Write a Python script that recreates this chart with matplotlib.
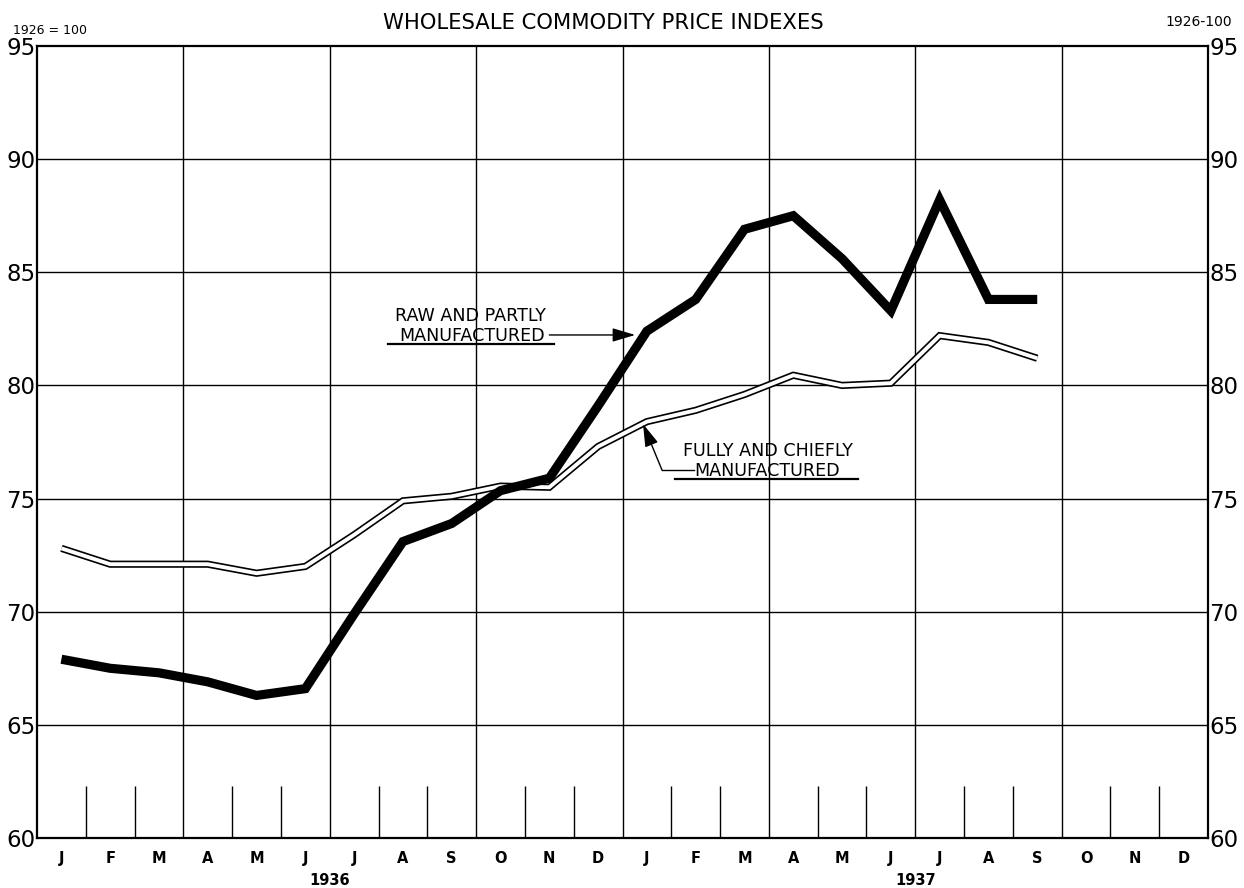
import matplotlib
matplotlib.use("Agg")
import matplotlib.pyplot as plt
from matplotlib import font_manager
from matplotlib.transforms import blended_transform_factory

# ---------------- data ----------------
month_labels = ["J", "F", "M", "A", "M", "J", "J", "A", "S", "O", "N", "D",
                "J", "F", "M", "A", "M", "J", "J", "A", "S", "O", "N", "D"]
years = ["1936", "1937"]
# Jan 1936 .. Sep 1937 (21 months)
raw_partly = [67.9, 67.5, 67.3, 66.9, 66.3, 66.6, 69.9, 73.1, 73.9, 75.35, 75.9, 79.1,
              82.4, 83.8, 86.9, 87.5, 85.6, 83.3, 88.2, 83.8, 83.8]
fully_chiefly = [72.8, 72.1, 72.1, 72.1, 71.7, 72.0, 73.4, 74.9, 75.1, 75.55, 75.5, 77.3,
                 78.4, 78.9, 79.6, 80.45, 80.0, 80.1, 82.2, 81.9, 81.2]
y_ticks = [60, 65, 70, 75, 80, 85, 90, 95]

# ---------------- fonts ----------------
FAM = "DejaVu Sans"
names = {f.name for f in font_manager.fontManager.ttflist}
NARROW = "Liberation Sans Narrow" if "Liberation Sans Narrow" in names else None

# ---------------- figure ----------------
W, H = 1244, 888
fig = plt.figure(figsize=(W / 100, H / 100), dpi=100)
fig.patch.set_facecolor("white")
ax = fig.add_axes([37 / W, 1 - 838 / H, (1208 - 37) / W, (838 - 46) / H])

n = len(month_labels)
ax.set_xlim(-0.5, n - 0.5)
ax.set_ylim(60, 95)

# grid: horizontal at every 5, vertical every quarter
for v in y_ticks[1:-1]:
    ax.axhline(v, color="black", lw=1.0, zorder=1)
for q in range(3, n, 3):
    ax.axvline(q - 0.5, color="black", lw=1.0, zorder=1)
# short month ticks
short = [b - 0.5 for b in range(1, n) if b % 3 != 0]
ax.vlines(short, 60, 62.3, color="black", lw=1.0, zorder=1)

for s in ax.spines.values():
    s.set_linewidth(1.6)
    s.set_color("black")

# series
xs = list(range(len(raw_partly)))
ax.plot(xs, raw_partly, color="black", lw=6.6, solid_joinstyle="miter",
        solid_capstyle="butt", zorder=4)
xf = list(range(len(fully_chiefly)))
ax.plot(xf, fully_chiefly, color="black", lw=5.2, solid_joinstyle="miter",
        solid_capstyle="butt", zorder=3)
ax.plot(xf, fully_chiefly, color="white", lw=2.8, solid_joinstyle="miter",
        solid_capstyle="butt", zorder=3.5)

# axes ticks / labels
ax.set_xticks(range(n))
ax.set_xticklabels(month_labels, fontsize=10.5, fontweight="bold", family=FAM)
ax.tick_params(axis="x", length=0, pad=9)
ax.set_yticks(y_ticks)
ax.set_yticklabels([str(v) for v in y_ticks])
ax.tick_params(axis="y", left=True, right=True, labelleft=True, labelright=True,
               length=0, pad=1)
for t in ax.yaxis.get_major_ticks():
    for lab in (t.label1, t.label2):
        if NARROW:
            lab.set_family(NARROW)
            lab.set_fontsize(20)
        else:
            lab.set_family(FAM)
            lab.set_fontsize(16.5)

# year labels
trans = blended_transform_factory(ax.transData, fig.transFigure)
for xpos, yr in zip([5.5, 17.5], years):
    ax.text(xpos, 1 - 880 / H, yr, transform=trans, ha="center", va="center",
            fontsize=10.5, fontweight="bold", family=FAM)

# title and unit notes
if NARROW:
    title_kw = dict(family=NARROW, fontsize=19)
    left_kw = dict(family=NARROW, fontsize=10.5)
    right_kw = dict(family=NARROW, fontsize=11.5)
else:
    title_kw = dict(family=FAM, fontsize=15.2)
    left_kw = dict(family=FAM, fontsize=9)
    right_kw = dict(family=FAM, fontsize=10)
fig.text(603 / W, 1 - 23 / H, "WHOLESALE COMMODITY PRICE INDEXES", ha="center",
         va="center", **title_kw)
fig.text(13 / W, 1 - 31 / H, "1926 = 100", ha="left", va="center", **left_kw)
fig.text(1232 / W, 1 - 22 / H, "1926-100", ha="right", va="center", **right_kw)

# annotations
tk = dict(fontsize=12.6, family=FAM, ha="center", va="center", zorder=6)
ax.text(8.375, 83.07, "RAW AND PARTLY", **tk)
ax.text(8.42, 82.18, "MANUFACTURED", **tk)
ax.plot([6.69, 10.10], [81.83, 81.83], color="black", lw=1.6, zorder=6)
ax.annotate("", xy=(11.76, 82.23), xytext=(10.0, 82.23),
            arrowprops=dict(arrowstyle="-|>,head_length=1.4,head_width=0.42",
                            mutation_scale=10, color="black", lw=1.0,
                            shrinkA=0, shrinkB=0), zorder=6)

ax.text(14.48, 77.10, "FULLY AND CHIEFLY", **tk)
ax.text(14.46, 76.22, "MANUFACTURED", **tk)
ax.plot([12.97, 12.31], [76.26, 76.26], color="black", lw=1.0, zorder=6)
ax.plot([12.58, 16.33], [75.87, 75.87], color="black", lw=1.6, zorder=6)
ax.annotate("", xy=(11.92, 78.30), xytext=(12.31, 76.26),
            arrowprops=dict(arrowstyle="-|>,head_length=1.4,head_width=0.42",
                            mutation_scale=10, color="black", lw=1.0,
                            shrinkA=0, shrinkB=0), zorder=6)

fig.savefig("out.png", dpi=100, facecolor="white")
